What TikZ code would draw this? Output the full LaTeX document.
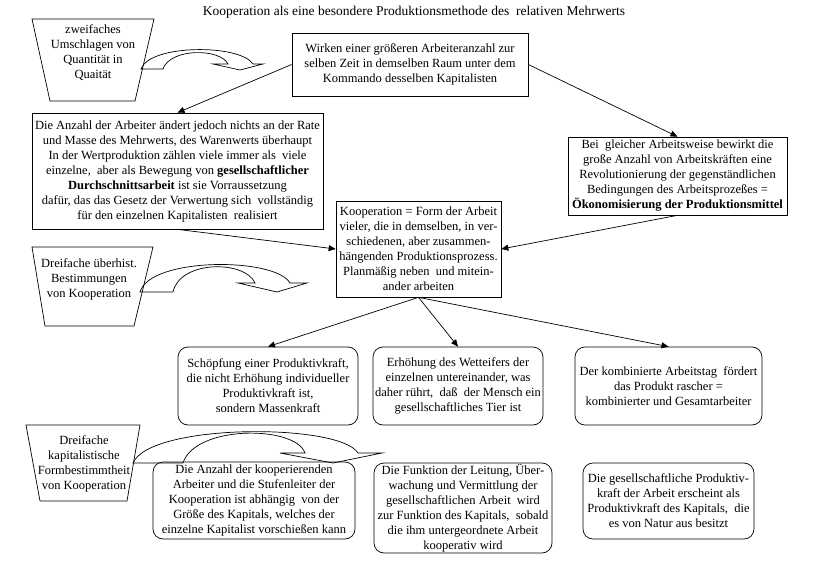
\documentclass[tikz,border=0pt]{standalone}
\usepackage{fontspec}
\setmainfont{Liberation Serif}
\usetikzlibrary{arrows.meta}

\begin{document}
\begin{tikzpicture}[x=1pt,y=-1pt,line width=0.7pt,
    box/.style={draw,align=center,inner sep=1pt},
    bubble/.style={box,rounded corners=10pt},
    link/.style={-{Triangle[length=7pt,width=6pt]}}]
                            \useasboundingbox (0,0) rectangle (823,570);
                            {\fontsize{12.5}{15}\selectfont

                            % Title
                            \draw (414,12) node [font=\fontsize{13.5}{15}\selectfont] (title) {Kooperation als eine besondere Produktionsmethode des\ \ relativen Mehrwerts};%

                            % Trapezoid zweifaches Umschlagen
                            \draw (32,19) -- (154,19) -- (135,101) -- (50,101) -- cycle;%
                            \draw (93,53) node (umschlag) [align=center] {zweifaches\\Umschlagen von\\Quantität in\\Quaität};%

                            % Curved arrow of the first trapezoid
                            \draw (141,69) -- (163,69) .. controls (170,48) and (220,48) .. (228,64) -- (213,64) -- (240,70) -- (263,64) -- (253,64) .. controls (240,44) and (150,44) .. cycle;%

                            % Box Wirken
                            \draw (410,64.5) node [box,minimum width=236pt,minimum height=63pt] (wirken) {Wirken einer größeren Arbeiteranzahl zur\\selben Zeit in demselben Raum unter dem\\Kommando desselben Kapitalisten};%

                            % Box Anzahl der Arbeiter
                            \draw (177.5,171) node [box,minimum width=291pt,minimum height=116pt] (anzahl) {Die Anzahl der Arbeiter ändert jedoch nichts an der Rate\\und Masse des Mehrwerts, des Warenwerts überhaupt\\In der Wertproduktion zählen viele immer als\ \ viele\\einzelne,\ \ aber als Bewegung von \textbf{gesellschaftlicher}\\\textbf{Durchschnittsarbeit} ist sie Vorraussetzung\\dafür, das das Gesetz der Verwertung sich\ \ vollständig\\für den einzelnen Kapitalisten\ \ realisiert};%

                            % Box gleiche Arbeitsweise
                            \draw (677.5,176) node [box,minimum width=219pt,minimum height=78pt] (gleich) {Bei\ \ gleicher Arbeitsweise bewirkt die\\große Anzahl von Arbeitskräften eine\\Revolutionierung der gegenständlichen\\Bedingungen des Arbeitsprozeßes =\\\textbf{Ökonomisierung der Produktionsmittel}};%

                            % Box Kooperation
                            \draw (418.5,249) node [box,minimum width=165pt,minimum height=96pt] (koop) {Kooperation = Form der Arbeit\\vieler, die in demselben, in ver-\\schiedenen, aber zusammen-\\hängenden Produktionsprozess.\\Planmäßig neben\ \ und mitein-\\ander arbeiten};%

                            % Drawing arrows into the upper boxes
                            \draw [link] (wirken.west) -- (anzahl.north);%
                            \draw [link] (wirken.east) -- (gleich.north);%
                            \draw [link] (anzahl.south) -- (koop.west);%
                            \draw [link] (gleich.south) -- (koop.east);%

                            % Trapezoid Dreifache ueberhist.
                            \draw (32,247) -- (153,247) -- (134,326) -- (45,326) -- cycle;%
                            \draw (89,279) node (ueberhist) [align=center] {Dreifache überhist.\\Bestimmungen\\von Kooperation};%

                            % Curved arrow of the second trapezoid
                            \draw (140,292) -- (173,292) .. controls (180,260) and (245,260) .. (255,283) -- (238,283) -- (277,292) -- (307,283) -- (290,283) .. controls (275,257) and (150,257) .. cycle;%

                            % Rounded boxes of the middle row
                            \draw (268,386) node [bubble,minimum width=180pt,minimum height=78pt] (schoepf) {Schöpfung einer Produktivkraft,\\die nicht Erhöhung individueller\\Produktivkraft ist,\\sondern Massenkraft};%
                            \draw (458,386) node [bubble,minimum width=170pt,minimum height=78pt] (wett) {Erhöhung des Wetteifers der\\einzelnen untereinander, was\\daher rührt,\ \ daß\ \ der Mensch ein\\gesellschaftliches Tier ist};%
                            \draw (668.5,386) node [bubble,minimum width=187pt,minimum height=78pt] (kombi) {Der kombinierte Arbeitstag\ \ fördert\\das Produkt rascher =\\kombinierter und Gesamtarbeiter};%

                            % Drawing arrows out of Kooperation
                            \draw [link] (koop.south) -- (schoepf.north);%
                            \draw [link] (koop.south) -- (wett.north);%
                            \draw [link] (koop.south) -- (kombi.north);%

                            % Trapezoid Dreifache kapitalistische
                            \draw (26,425) -- (140,425) -- (127,501) -- (40,501) -- cycle;%
                            \draw (84,464) node (formbest) [align=center] {Dreifache\\kapitalistische\\Formbestimmtheit\\von Kooperation};%

                            % Curved arrow of the third trapezoid
                            \draw (133,463) -- (183,463) .. controls (195,425) and (295,425) .. (305,453) -- (280,453) -- (333,463) -- (382,453) -- (358,453) .. controls (340,423) and (150,423) .. cycle;%

                            % Rounded boxes of the lower row
                            \draw (254,500.5) node [bubble,minimum width=202pt,minimum height=77pt] (kapital) {Die Anzahl der kooperierenden\\Arbeiter und die Stufenleiter der\\Kooperation ist abhängig\ \ von der\\Größe des Kapitals, welches der\\einzelne Kapitalist vorschießen kann};%
                            \draw (463,508) node [bubble,minimum width=178pt,minimum height=90pt] (leitung) {Die Funktion der Leitung, Über-\\wachung und Vermittlung der\\gesellschaftlichen Arbeit\ \ wird\\zur Funktion des Kapitals,\ \ sobald\\die ihm untergeordnete Arbeit\\kooperativ wird};%
                            \draw (668.5,501) node [bubble,minimum width=171pt,minimum height=76pt] (natur) {Die gesellschaftliche Produktiv-\\kraft der Arbeit erscheint als\\Produktivkraft des Kapitals,\ \ die\\es von Natur aus besitzt};%
                            }
                        \end{tikzpicture}
\end{document}
